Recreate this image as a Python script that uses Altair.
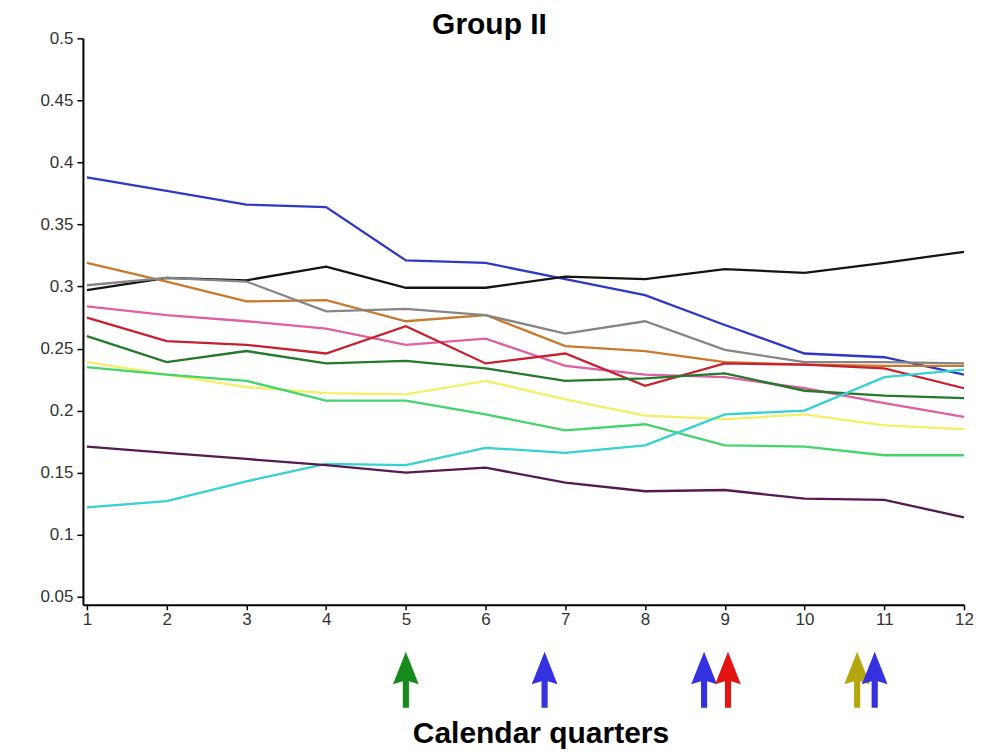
import altair as alt
import pandas as pd

quarters = list(range(1, 13))

series_names = ["blue", "black", "orange", "gray", "pink", "red",
                "darkgreen", "yellow", "lightgreen", "cyan", "purple"]
blue = [0.388, 0.377, 0.366, 0.364, 0.321, 0.319, 0.306, 0.293, 0.269, 0.246, 0.243, 0.229]
black = [0.297, 0.307, 0.305, 0.316, 0.299, 0.299, 0.308, 0.306, 0.314, 0.311, 0.319, 0.328]
orange = [0.319, 0.304, 0.288, 0.289, 0.272, 0.277, 0.252, 0.248, 0.239, 0.237, 0.236, 0.236]
gray = [0.301, 0.307, 0.304, 0.280, 0.282, 0.277, 0.262, 0.272, 0.249, 0.239, 0.239, 0.238]
pink = [0.284, 0.277, 0.272, 0.266, 0.253, 0.258, 0.236, 0.229, 0.227, 0.218, 0.206, 0.195]
red = [0.275, 0.256, 0.253, 0.246, 0.268, 0.238, 0.246, 0.220, 0.238, 0.237, 0.234, 0.218]
darkgreen = [0.260, 0.239, 0.248, 0.238, 0.240, 0.234, 0.224, 0.226, 0.230, 0.216, 0.212, 0.210]
yellow = [0.239, 0.229, 0.219, 0.214, 0.213, 0.224, 0.209, 0.196, 0.193, 0.197, 0.188, 0.185]
lightgreen = [0.235, 0.229, 0.224, 0.208, 0.208, 0.197, 0.184, 0.189, 0.172, 0.171, 0.164, 0.164]
cyan = [0.122, 0.127, 0.143, 0.157, 0.156, 0.170, 0.166, 0.172, 0.197, 0.200, 0.227, 0.233]
purple = [0.171, 0.166, 0.161, 0.156, 0.150, 0.154, 0.142, 0.135, 0.136, 0.129, 0.128, 0.114]

series_values = [blue, black, orange, gray, pink, red, darkgreen, yellow,
                 lightgreen, cyan, purple]
series_colors = ["#2e38c4", "#141414", "#c8792c", "#858585", "#e05fa0", "#c8202e",
                 "#237a2c", "#f4ef66", "#44d46c", "#34d2d2", "#561a52"]

# event arrows below the axis
arrow_quarters = [5.0, 6.74, 8.74, 9.04, 10.66, 10.88]
arrow_kinds = ["green", "blue", "blue", "red", "olive", "blue"]
arrow_kind_domain = ["green", "blue", "red", "olive"]
arrow_kind_colors = ["#178a1c", "#3432e0", "#e41414", "#b4a60c"]

y_ticks = [0.05, 0.1, 0.15, 0.2, 0.25, 0.3, 0.35, 0.4, 0.45, 0.5]

rows = []
for name, vals in zip(series_names, series_values):
    for q, v in zip(quarters, vals):
        rows.append({"series": name, "quarter": q, "value": v})
df = pd.DataFrame(rows)

arrows = pd.DataFrame({"quarter": arrow_quarters, "kind": arrow_kinds,
                       "order": list(range(len(arrow_quarters)))})

x_scale = alt.Scale(domain=[0.95, 12], nice=False, zero=False)
y_scale = alt.Scale(domain=[0.0435, 0.5], nice=False, zero=False)

font = "Liberation Sans"

lines = alt.Chart(df).mark_line(strokeWidth=2.3, clip=True).encode(
    x=alt.X("quarter:Q", scale=x_scale,
            axis=alt.Axis(values=quarters, format="d", title="Calendar quarters",
                          grid=False, domainColor="black", domainWidth=2,
                          tickColor="black", tickWidth=1.5, tickSize=5,
                          labelPadding=2, labelFontSize=17, labelColor="#333",
                          labelFont=font, labelFlush=False,
                          titleFont=font, titleFontSize=30,
                          titleFontWeight="bold", titleColor="black",
                          titleX=458, titleY=138, titleBaseline="alphabetic",
                          titleAlign="center", titleAnchor="start")),
    y=alt.Y("value:Q", scale=y_scale,
            axis=alt.Axis(values=y_ticks, format="~g", title=None, grid=False,
                          domainColor="black", domainWidth=2, tickColor="black",
                          tickWidth=1.5, tickSize=6, labelPadding=4,
                          labelFontSize=17, labelColor="#333", labelFont=font,
                          labelFlush=False)),
    color=alt.Color("series:N", scale=alt.Scale(domain=series_names, range=series_colors),
                    legend=None),
    detail="series:N",
)

arrow_path = ("M0,-1 L0.46,0.16 L0.11,0.06 L0.11,1 L-0.11,1 L-0.11,0.06 "
              "L-0.46,0.16 Z")

arrow_marks = alt.Chart(arrows).mark_point(
    shape=arrow_path, filled=True, opacity=1, size=3136, strokeWidth=0
).encode(
    x=alt.X("quarter:Q", scale=x_scale),
    y=alt.value(642),
    color=alt.Color("kind:N", scale=alt.Scale(domain=arrow_kind_domain,
                                              range=arrow_kind_colors), legend=None),
    order="order:Q",
)

chart = alt.layer(lines, arrow_marks).resolve_scale(color="independent").properties(
    width=882,
    height=567,
    title=alt.TitleParams("Group II", font=font, fontSize=30, fontWeight="bold",
                          color="black", dx=-34, offset=-11),
    autosize=alt.AutoSizeParams(type="none"),
    padding={"left": 75, "top": 30, "right": 10, "bottom": 148},
).configure(background="white").configure_view(stroke=None)

chart.save("out.html", embed_options={"renderer": "svg", "actions": False})
